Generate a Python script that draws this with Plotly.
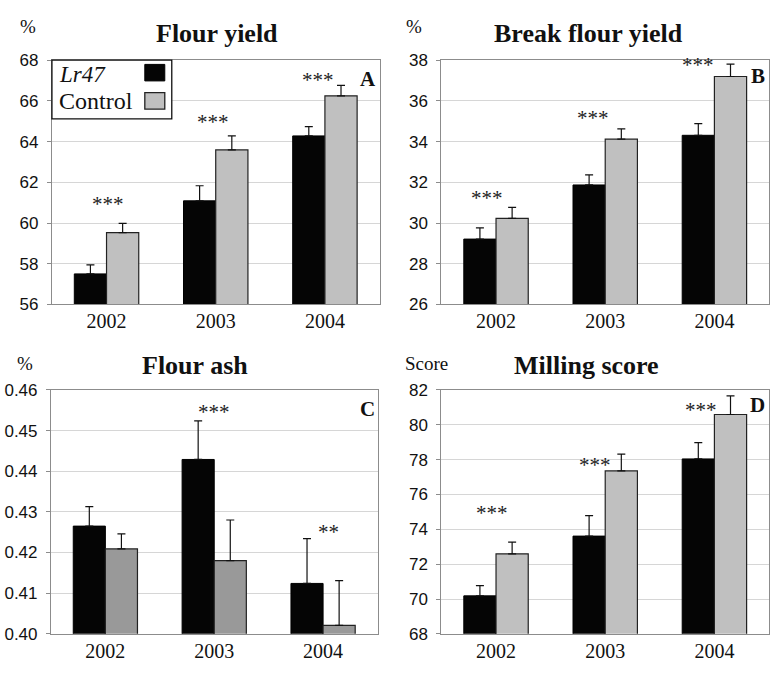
import plotly.graph_objects as go

W, H = 770, 673

YEARS = ["2002", "2003", "2004"]
SERIES = ["Lr47", "Control"]

# Panel A: Flour yield (%)
A_LR47 = [57.50, 61.09, 64.28]
A_LR47_ERR = [0.44, 0.74, 0.46]
A_CTRL = [59.53, 63.59, 66.25]
A_CTRL_ERR = [0.45, 0.69, 0.51]
A_STARS = ["***", "***", "***"]
A_STAR_Y = [60.97, 65.03, 67.08]

# Panel B: Break flour yield (%)
B_LR47 = [29.21, 31.87, 34.31]
B_LR47_ERR = [0.55, 0.50, 0.57]
B_CTRL = [30.23, 34.12, 37.20]
B_CTRL_ERR = [0.54, 0.51, 0.61]
B_STARS = ["***", "***", "***"]
B_STAR_Y = [31.28, 35.20, 37.80]

# Panel C: Flour ash (%)
C_LR47 = [0.4265, 0.4429, 0.4124]
C_LR47_ERR = [0.0048, 0.0095, 0.0110]
C_CTRL = [0.4209, 0.4180, 0.4021]
C_CTRL_ERR = [0.0037, 0.0100, 0.0110]
C_STARS = ["", "***", "**"]
C_STAR_Y = [None, 0.4548, 0.4254]

# Panel D: Milling score
D_LR47 = [70.18, 73.61, 78.04]
D_LR47_ERR = [0.59, 1.18, 0.93]
D_CTRL = [72.59, 77.35, 80.59]
D_CTRL_ERR = [0.67, 0.97, 1.07]
D_STARS = ["***", "***", "***"]
D_STAR_Y = [75.0, 77.75, 80.92]

SERIF = "Liberation Serif, Times New Roman, serif"
SANS = "Liberation Sans, Arial, sans-serif"


def px(x):
    return x / W


def py(y):
    return 1 - y / H


panels = [
    dict(key="", lr=A_LR47, lre=A_LR47_ERR, c=A_CTRL, ce=A_CTRL_ERR, ccol="#c0c0c0",
         x0=52, x1=380, y0=52.7, y1=304, rng=[56, 68], dt=2, fmt="d",
         stars=A_STARS, sy=A_STAR_Y, sdx=[1, -3, -7],
         title="Flour yield", tx=217.5, ty=25, unit="%", ux=28, uy=18, letter="A", lx=378, ly=72),
    dict(key="2", lr=B_LR47, lre=B_LR47_ERR, c=B_CTRL, ce=B_CTRL_ERR, ccol="#c0c0c0",
         x0=442, x1=770, y0=52.7, y1=304, rng=[26, 38], dt=2, fmt="d",
         stars=B_STARS, sy=B_STAR_Y, sdx=[-9, -12, -16],
         title="Break flour yield", tx=589.5, ty=25, unit="%", ux=415, uy=18, letter="B", lx=768, ly=69),
    dict(key="3", lr=C_LR47, lre=C_LR47_ERR, c=C_CTRL, ce=C_CTRL_ERR, ccol="#999999",
         x0=51, x1=378, y0=392, y1=643, rng=[0.40, 0.46], dt=0.01, fmt=".2f",
         stars=C_STARS, sy=C_STAR_Y, sdx=[0, 0, 5],
         title="Flour ash", tx=195, ty=367, unit="%", ux=25, uy=365, letter="C", lx=377, ly=412),
    dict(key="4", lr=D_LR47, lre=D_LR47_ERR, c=D_CTRL, ce=D_CTRL_ERR, ccol="#c0c0c0",
         x0=442, x1=770, y0=392, y1=643, rng=[68, 82], dt=2, fmt="d",
         stars=D_STARS, sy=D_STAR_Y, sdx=[-4, -10, -13],
         title="Milling score", tx=587, ty=367, unit="Score", ux=427, uy=365, letter="D", lx=768, ly=408),
]

fig = go.Figure()
annotations = []
shapes = []

for p in panels:
    xa = "x" + p["key"]
    ya = "y" + p["key"]
    fig.add_trace(go.Bar(
        x=YEARS, y=p["lr"], name=SERIES[0], xaxis=xa, yaxis=ya,
        marker=dict(color="#050505", line=dict(color="#000000", width=1)),
        error_y=dict(type="data", array=p["lre"], arrayminus=[0, 0, 0], symmetric=False,
                     color="#111111", thickness=1.2, width=4),
        showlegend=False, offsetgroup="1",
    ))
    fig.add_trace(go.Bar(
        x=YEARS, y=p["c"], name=SERIES[1], xaxis=xa, yaxis=ya,
        marker=dict(color=p["ccol"], line=dict(color="#222222", width=1.2)),
        error_y=dict(type="data", array=p["ce"], arrayminus=[0, 0, 0], symmetric=False,
                     color="#111111", thickness=1.2, width=4),
        showlegend=False, offsetgroup="2",
    ))
    axx = "xaxis" + p["key"]
    axy = "yaxis" + p["key"]
    fig.update_layout(**{
        axx: dict(domain=[px(p["x0"]), px(p["x1"])], anchor=ya, type="category",
                  range=[-0.5, 2.5], showgrid=False, showline=True, linecolor="#8c8c8c",
                  linewidth=1, mirror=True, ticks="", ticklabelstandoff=-1,
                  tickfont=dict(family=SERIF, size=20, color="#111"), fixedrange=True),
        axy: dict(domain=[py(p["y1"]), py(p["y0"])], anchor=xa, range=p["rng"], dtick=p["dt"],
                  tick0=p["rng"][0], tickformat=p["fmt"], showgrid=True, gridcolor="#d6d6d6",
                  gridwidth=1, showline=True, linecolor="#8c8c8c", linewidth=1, mirror=True,
                  ticks="outside", ticklen=4, tickcolor="#8c8c8c", zeroline=False,
                  ticklabelstandoff=5,
                  tickfont=dict(family=SANS, size=17, color="#111"), fixedrange=True),
    })
    for i, s in enumerate(p["stars"]):
        if s:
            annotations.append(dict(x=i, y=p["sy"][i], xref=xa, yref=ya, text=s,
                                    showarrow=False, xshift=p["sdx"][i], yshift=-1,
                                    xanchor="center", yanchor="middle",
                                    font=dict(family=SERIF, size=21, color="#222")))
    annotations.append(dict(x=px(p["tx"]), y=py(p["ty"]), xref="paper", yref="paper",
                            text="<b>" + p["title"] + "</b>", showarrow=False,
                            xanchor="center", yanchor="middle",
                            font=dict(family=SERIF, size=26, color="#111")))
    annotations.append(dict(x=px(p["ux"]), y=py(p["uy"]), xref="paper", yref="paper",
                            text=p["unit"], showarrow=False, xanchor="center", yanchor="middle",
                            font=dict(family=SERIF, size=19, color="#111")))
    annotations.append(dict(x=px(p["lx"]), y=py(p["ly"]), xref="paper", yref="paper",
                            text="<b>" + p["letter"] + "</b>", showarrow=False,
                            xanchor="right", yanchor="middle",
                            font=dict(family=SERIF, size=21, color="#111")))

# custom legend in panel A (text left, swatch right)
shapes.append(dict(type="rect", xref="paper", yref="paper", x0=px(52), x1=px(172), y0=py(113), y1=py(52.7),
                   line=dict(color="#111", width=1.3), fillcolor="white", layer="above"))
shapes.append(dict(type="rect", xref="paper", yref="paper", x0=px(145), x1=px(165), y0=py(74), y1=py(57),
                   line=dict(color="#000", width=1), fillcolor="#050505", layer="above"))
shapes.append(dict(type="rect", xref="paper", yref="paper", x0=px(145), x1=px(165), y0=py(103), y1=py(86),
                   line=dict(color="#222", width=1.3), fillcolor="#c0c0c0", layer="above"))
annotations.append(dict(x=px(57), y=py(67), xref="paper", yref="paper", text="<i>" + SERIES[0] + "</i>",
                        showarrow=False, xanchor="left", yanchor="middle",
                        font=dict(family=SERIF, size=23, color="#111")))
annotations.append(dict(x=px(57), y=py(95), xref="paper", yref="paper", text=SERIES[1],
                        showarrow=False, xanchor="left", yanchor="middle",
                        font=dict(family=SERIF, size=24, color="#111")))

fig.update_layout(
    width=W, height=H, margin=dict(l=0, r=0, t=0, b=0),
    paper_bgcolor="white", plot_bgcolor="white",
    barmode="group", bargap=0.41, bargroupgap=0,
    annotations=annotations, shapes=shapes, showlegend=False,
)

fig.write_html("out.html", config={"displayModeBar": False},
               post_script="document.body.style.margin='0';document.body.style.overflow='hidden';")
